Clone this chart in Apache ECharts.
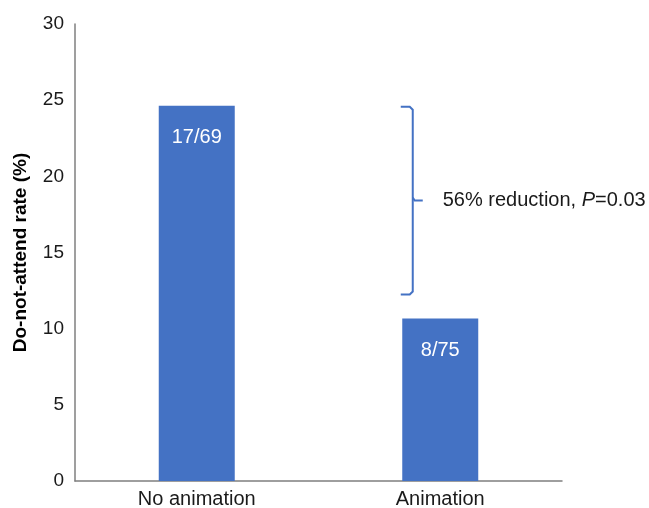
<!DOCTYPE html>
<html>
<head>
<meta charset="utf-8">
<script src="https://cdn.jsdelivr.net/npm/echarts@6/dist/echarts.min.js"></script>
<style>
  html, body { margin: 0; padding: 0; background: #fff; }
  #chart { width: 649px; height: 508px; }
</style>
</head>
<body>
<div id="chart"></div>
<script>
// Groups and counts of patients who did not attend
const categories = ['No animation', 'Animation'];
const didNotAttend = [17, 8];
const totalPatients = [69, 75];
const rates = didNotAttend.map((n, i) => n / totalPatients[i] * 100);
const barLabels = didNotAttend.map((n, i) => n + '/' + totalPatients[i]);
const yTicks = { min: 0, max: 30, interval: 5 };
const comparisonText = '56% reduction, ';
const pText = 'P';
const pValueText = '=0.03';

const FONT = '"Liberation Sans", Arial, sans-serif';
const BLUE = '#4472C4';

const chart = echarts.init(document.getElementById('chart'), null, { renderer: 'canvas' });

chart.setOption({
  animation: false,
  textStyle: { fontFamily: FONT },
  grid: { left: 75, right: 87, top: 24, bottom: 27, containLabel: false, outerBoundsMode: 'none' },
  xAxis: {
    type: 'category',
    data: categories,
    axisLine: { show: true, lineStyle: { color: '#7f7f7f', width: 1.5 } },
    axisTick: { show: false },
    axisLabel: { color: '#1a1a1a', fontSize: 20, fontFamily: FONT, margin: 8 }
  },
  yAxis: {
    type: 'value',
    min: yTicks.min,
    max: yTicks.max,
    interval: yTicks.interval,
    name: 'Do-not-attend rate (%)',
    nameLocation: 'middle',
    nameGap: 45,
    nameTextStyle: { color: '#000', fontSize: 19, fontWeight: 'bold', fontFamily: FONT },
    axisLine: { show: true, lineStyle: { color: '#7f7f7f', width: 1.5 } },
    axisTick: { show: false },
    splitLine: { show: false },
    axisLabel: { color: '#1a1a1a', fontSize: 19, fontFamily: FONT, margin: 11 }
  },
  series: [{
    type: 'bar',
    data: rates,
    barWidth: 76,
    itemStyle: { color: BLUE },
    label: {
      show: true,
      position: 'insideTop',
      distance: 22,
      color: '#fff',
      fontSize: 20,
      fontFamily: FONT,
      formatter: p => barLabels[p.dataIndex]
    }
  }]
});

// Bracket comparing the two groups, placed through the axis scales
function drawBracket() {
  const top = chart.convertToPixel({ seriesIndex: 0 }, [1, rates[0]]);
  const low = chart.convertToPixel({ seriesIndex: 0 }, [1, rates[1]]);
  const x = top[0] - 27.5;
  const y1 = top[1] + 1;
  const y2 = low[1] - 24;
  const ym = (y1 + y2) / 2;
  const hook = 12, r = 3;
  chart.setOption({
    graphic: [
      {
        type: 'polyline',
        shape: { points: [[x - hook, y1], [x - r, y1], [x, y1 + r], [x, y2 - r], [x - r, y2], [x - hook, y2]] },
        style: { stroke: BLUE, lineWidth: 2, fill: null }
      },
      {
        type: 'polyline',
        shape: { points: [[x, ym - 3], [x + 2, ym], [x + 10, ym]] },
        style: { stroke: BLUE, lineWidth: 2, fill: null }
      },
      {
        type: 'text',
        x: x + 30,
        y: ym,
        style: {
          text: '{a|' + comparisonText + '}{i|' + pText + '}{a|' + pValueText + '}',
          verticalAlign: 'middle',
          rich: {
            a: { fontSize: 20, fontFamily: FONT, fill: '#1a1a1a' },
            i: { fontSize: 20, fontFamily: FONT, fontStyle: 'italic', fill: '#1a1a1a' }
          }
        }
      }
    ]
  });
}
drawBracket();
</script>
</body>
</html>
